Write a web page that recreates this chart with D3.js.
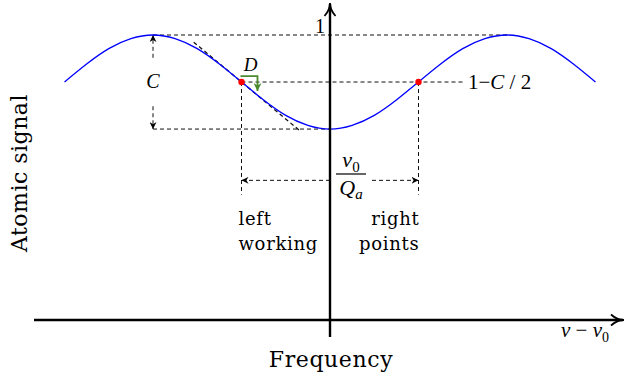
<!DOCTYPE html>
<meta charset="utf-8">
<script src="https://d3js.org/d3.v7.min.js"></script>
<style>
  body { margin: 0; background: #fff; }
  text { font-family: "DejaVu Serif", serif; }
  .math { font-family: "Liberation Serif", "Times New Roman", serif; }
</style>
<div id="chart"></div>
<script>

// detuning (nu - nu0), in units of half a fringe period
var detuning = [-1.5, -1.375, -1.25, -1.125, -1, -0.875, -0.75, -0.625, -0.5, -0.375, -0.25, -0.125,
                0, 0.125, 0.25, 0.375, 0.5, 0.625, 0.75, 0.875, 1, 1.125, 1.25, 1.375, 1.5];
// atomic signal
var signal = [0.835, 0.898, 0.952, 0.987, 1.0, 0.987, 0.952, 0.898, 0.835, 0.772, 0.718, 0.683,
              0.670, 0.683, 0.718, 0.772, 0.835, 0.898, 0.952, 0.987, 1.0, 0.987, 0.952, 0.898, 0.835];

var contrast = 0.33;                 // C
var workingPoints = [-0.5, 0.5];     // left and right working points
var peakPoints = [-1, 1];
var tickValues = [1, 1 - contrast / 2];
var tangentRange = [-0.77, -0.17];

var width = 629, height = 377;

var svg = d3.select("#chart").append("svg")
  .attr("width", width)
  .attr("height", height);

var x = d3.scaleLinear().domain([-1, 1]).range([153, 507]);
var y = d3.scaleLinear().domain([0, 1]).range([320, 35]);

var defs = svg.append("defs");
defs.append("marker")
  .attr("id", "tip")
  .attr("viewBox", "0 -5 10 10")
  .attr("refX", 10).attr("refY", 0)
  .attr("markerWidth", 7).attr("markerHeight", 7)
  .attr("markerUnits", "userSpaceOnUse")
  .attr("orient", "auto-start-reverse")
  .append("path")
    .attr("d", "M0,-5L10,0L0,5L3,0Z")
    .attr("fill", "#000");
defs.append("marker")
  .attr("id", "greentip")
  .attr("viewBox", "0 -5 10 10")
  .attr("refX", 10).attr("refY", 0)
  .attr("markerWidth", 8).attr("markerHeight", 8)
  .attr("markerUnits", "userSpaceOnUse")
  .attr("orient", "auto")
  .append("path")
    .attr("d", "M0,-5L10,0L0,5L3,0Z")
    .attr("fill", "#4a8a2c");

var dash = "4,3";
var midY = y(1 - contrast / 2);

// dashed guide lines
var guides = svg.append("g")
  .attr("stroke", "#111")
  .attr("stroke-width", 1)
  .attr("stroke-dasharray", dash)
  .attr("fill", "none");

// top line at 1, from peak to peak
guides.append("line")
  .attr("x1", x(peakPoints[0])).attr("x2", x(peakPoints[1]))
  .attr("y1", y(1)).attr("y2", y(1));
// bottom line at 1-C
guides.append("line")
  .attr("x1", x(peakPoints[0])).attr("x2", x(0))
  .attr("y1", y(1 - contrast)).attr("y2", y(1 - contrast));
// 1-C/2 line
guides.append("line")
  .attr("x1", x(workingPoints[0])).attr("x2", 464)
  .attr("y1", midY).attr("y2", midY);
// verticals below the working points
workingPoints.forEach(function(w) {
  guides.append("line")
    .attr("x1", x(w)).attr("x2", x(w))
    .attr("y1", midY).attr("y2", y(0.44));
});
// tangent at the left working point
var slope = contrast / 2 * Math.PI; // d(signal)/d(detuning) magnitude
guides.append("line")
  .attr("stroke-width", 1.3)
  .attr("x1", x(tangentRange[0]))
  .attr("y1", y(1 - contrast / 2 + slope * (workingPoints[0] - tangentRange[0])))
  .attr("x2", x(tangentRange[1]))
  .attr("y2", y(1 - contrast / 2 - slope * (tangentRange[1] - workingPoints[0])));

// C double arrow, broken by the label
guides.append("line")
  .attr("x1", x(-1)).attr("x2", x(-1))
  .attr("y1", y(0.92)).attr("y2", y(1))
  .attr("marker-end", "url(#tip)");
guides.append("line")
  .attr("x1", x(-1)).attr("x2", x(-1))
  .attr("y1", y(0.75)).attr("y2", y(1 - contrast))
  .attr("marker-end", "url(#tip)");
svg.append("text").attr("class", "math")
  .attr("x", x(-1)).attr("y", y(1 - contrast / 2) + 6)
  .attr("text-anchor", "middle")
  .style("font-size", "20px").style("font-style", "italic")
  .text("C");

// nu0/Qa double arrow, broken by the label
var arrowY = y(0.49);
guides.append("line")
  .attr("x1", x(0)).attr("x2", x(workingPoints[0]))
  .attr("y1", arrowY).attr("y2", arrowY)
  .attr("marker-end", "url(#tip)");
guides.append("line")
  .attr("x1", 372).attr("x2", x(workingPoints[1]))
  .attr("y1", arrowY).attr("y2", arrowY)
  .attr("marker-end", "url(#tip)");

// curve
svg.append("path")
  .datum(d3.zip(detuning, signal))
  .attr("fill", "none")
  .attr("stroke", "#0000ff")
  .attr("stroke-width", 1.3)
  .attr("d", d3.line()
    .x(function(d) { return x(d[0]); })
    .y(function(d) { return y(d[1]); })
    .curve(d3.curveNatural));

// axes
var axes = svg.append("g").attr("stroke", "#000").attr("fill", "none")
  .attr("stroke-width", 2.4);
axes.append("line").attr("x1", 34).attr("x2", 623).attr("y1", y(0)).attr("y2", y(0));
axes.append("line").attr("x1", x(0)).attr("x2", x(0)).attr("y1", 337).attr("y2", 4);
axes.append("path").attr("stroke-width", 1.8)
  .attr("d", "M" + 611 + "," + (y(0) - 5.5) + "Q617," + y(0) + " 624," + y(0) + "Q617," + y(0) + " 611," + (y(0) + 5.5));
axes.append("path").attr("stroke-width", 1.8)
  .attr("d", "M" + (x(0) - 5.5) + ",16Q" + x(0) + ",10 " + x(0) + ",3Q" + x(0) + ",10 " + (x(0) + 5.5) + ",16");

// working points
svg.selectAll(".wp").data(workingPoints).enter().append("circle")
  .attr("cx", function(d) { return x(d); })
  .attr("cy", midY)
  .attr("r", 3.2)
  .attr("fill", "#ff0000");

// green D arrow
var wx = x(workingPoints[0]);
svg.append("path")
  .attr("fill", "none").attr("stroke", "#4a8a2c").attr("stroke-width", 1.8)
  .attr("d", "M" + (wx - 1) + "," + (midY - 6) + "H" + (wx + 16) + "V" + (midY + 9))
  .attr("marker-end", "url(#greentip)");
svg.append("text").attr("class", "math")
  .attr("x", wx + 9).attr("y", midY - 11)
  .attr("text-anchor", "middle")
  .style("font-size", "19px").style("font-style", "italic")
  .text("D");

// tick-like labels
svg.append("text").attr("class", "math")
  .attr("x", x(0) - 10).attr("y", y(tickValues[0]) - 2)
  .attr("text-anchor", "middle")
  .style("font-size", "20px")
  .text("1");
var lab = svg.append("text").attr("class", "math")
  .attr("x", 468).attr("y", y(tickValues[1]) + 7)
  .style("font-size", "21px");
lab.append("tspan").text("1\u2212");
lab.append("tspan").style("font-style", "italic").text("C");
lab.append("tspan").text(" / 2");

// nu0 / Qa fraction
var fx = 351;
var num = svg.append("text").attr("class", "math")
  .attr("x", fx).attr("y", 167).attr("text-anchor", "middle")
  .style("font-size", "22px");
num.append("tspan").style("font-style", "italic").text("\u03bd");
num.append("tspan").attr("dy", 5).style("font-size", "15px").text("0");
svg.append("line")
  .attr("x1", 336).attr("x2", 366).attr("y1", 174).attr("y2", 174)
  .attr("stroke", "#000").attr("stroke-width", 1.2);
var den = svg.append("text").attr("class", "math")
  .attr("x", fx).attr("y", 195).attr("text-anchor", "middle")
  .style("font-size", "22px");
den.append("tspan").style("font-style", "italic").text("Q");
den.append("tspan").attr("dy", 4).style("font-size", "15px").style("font-style", "italic").text("a");

// working point captions
var cap = svg.append("g").style("font-size", "18px").style("letter-spacing", "0.7px");
cap.append("text").attr("x", wx - 3).attr("y", 225).text("left");
cap.append("text").attr("x", wx - 3).attr("y", 250).text("working");
cap.append("text").attr("x", x(workingPoints[1]) + 1).attr("y", 225).attr("text-anchor", "end").text("right");
cap.append("text").attr("x", x(workingPoints[1]) + 1).attr("y", 250).attr("text-anchor", "end").text("points");

// axis labels
var xl = svg.append("text").attr("class", "math")
  .attr("x", 561).attr("y", 337)
  .style("font-size", "21px");
xl.append("tspan").style("font-style", "italic").text("\u03bd");
xl.append("tspan").text(" \u2212 ");
xl.append("tspan").style("font-style", "italic").text("\u03bd");
xl.append("tspan").attr("dy", 5).style("font-size", "14px").text("0");

svg.append("text")
  .attr("x", x(0) + 1).attr("y", 367)
  .attr("text-anchor", "middle")
  .style("font-size", "22px").style("letter-spacing", "0.6px")
  .text("Frequency");

svg.append("text")
  .attr("transform", "translate(27,173) rotate(-90)")
  .attr("text-anchor", "middle")
  .style("font-size", "22px").style("letter-spacing", "0.5px")
  .text("Atomic signal");

</script>
